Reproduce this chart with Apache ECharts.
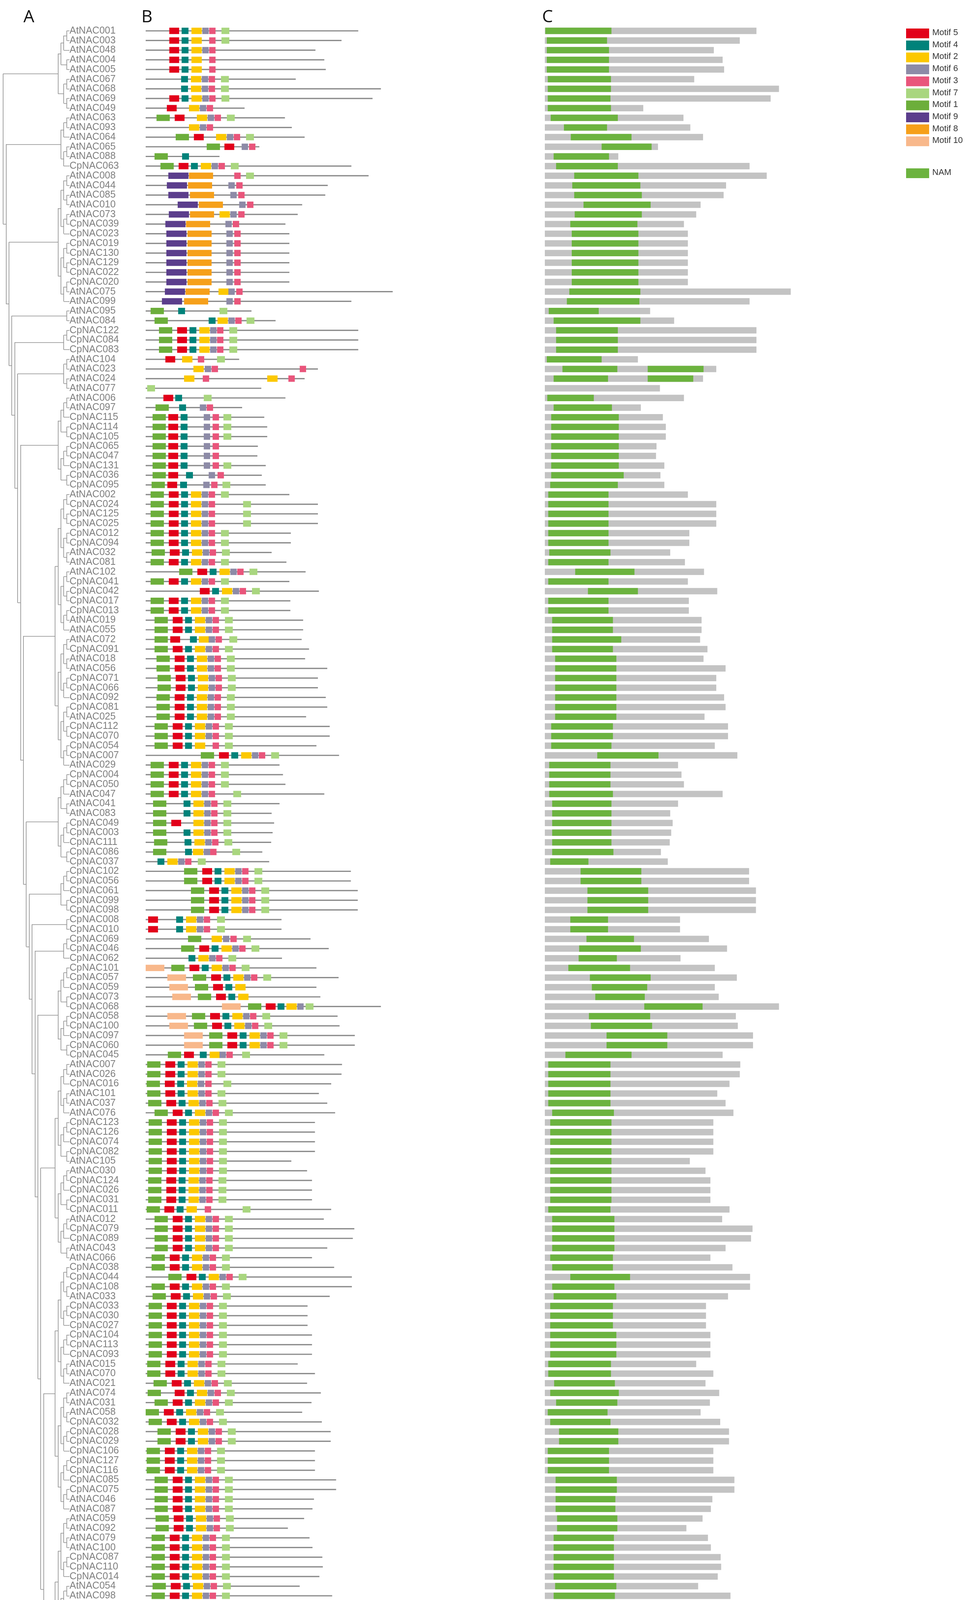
<!DOCTYPE html>
<html lang="en">
<head>
  <meta charset="UTF-8">
  <title>NAC motifs</title>
  <script src="https://cdn.jsdelivr.net/npm/echarts@6/dist/echarts.min.js"></script>
  <style>
    html, body { margin: 0; padding: 0; background: #fff; }
    #main { width: 2499px; height: 5883px; }
  </style>
</head>
<body>
<div id="main"></div>
<script>
  // gene order, top to bottom
  var names = [
    'AtNAC001','AtNAC003','AtNAC048','AtNAC004','AtNAC005','AtNAC067','AtNAC068','AtNAC069','AtNAC049','AtNAC063',
    'AtNAC093','AtNAC064','AtNAC065','AtNAC088','CpNAC063','AtNAC008','AtNAC044','AtNAC085','AtNAC010','AtNAC073',
    'CpNAC039','CpNAC023','CpNAC019','CpNAC130','CpNAC129','CpNAC022','CpNAC020','AtNAC075','AtNAC099','AtNAC095',
    'AtNAC084','CpNAC122','CpNAC084','CpNAC083','AtNAC104','AtNAC023','AtNAC024','AtNAC077','AtNAC006','AtNAC097',
    'CpNAC115','CpNAC114','CpNAC105','CpNAC065','CpNAC047','CpNAC131','CpNAC036','CpNAC095','AtNAC002','CpNAC024',
    'CpNAC125','CpNAC025','CpNAC012','CpNAC094','AtNAC032','AtNAC081','AtNAC102','CpNAC041','CpNAC042','CpNAC017',
    'CpNAC013','AtNAC019','AtNAC055','AtNAC072','CpNAC091','AtNAC018','AtNAC056','CpNAC071','CpNAC066','CpNAC092',
    'CpNAC081','AtNAC025','CpNAC112','CpNAC070','CpNAC054','CpNAC007','AtNAC029','CpNAC004','CpNAC050','AtNAC047',
    'AtNAC041','AtNAC083','CpNAC049','CpNAC003','CpNAC111','CpNAC086','CpNAC037','CpNAC102','CpNAC056','CpNAC061',
    'CpNAC099','CpNAC098','CpNAC008','CpNAC010','CpNAC069','CpNAC046','CpNAC062','CpNAC101','CpNAC057','CpNAC059',
    'CpNAC073','CpNAC068','CpNAC058','CpNAC100','CpNAC097','CpNAC060','CpNAC045','AtNAC007','AtNAC026','CpNAC016',
    'AtNAC101','AtNAC037','AtNAC076','CpNAC123','CpNAC126','CpNAC074','CpNAC082','AtNAC105','AtNAC030','CpNAC124',
    'CpNAC026','CpNAC031','CpNAC011','AtNAC012','CpNAC079','CpNAC089','AtNAC043','AtNAC066','CpNAC038','CpNAC044',
    'CpNAC108','AtNAC033','CpNAC033','CpNAC030','CpNAC027','CpNAC104','CpNAC113','CpNAC093','AtNAC015','AtNAC070',
    'AtNAC021','AtNAC074','AtNAC031','AtNAC058','CpNAC032','CpNAC028','CpNAC029','CpNAC106','CpNAC127','CpNAC116',
    'CpNAC085','CpNAC075','AtNAC046','AtNAC087','AtNAC059','AtNAC092','AtNAC079','AtNAC100','CpNAC087','CpNAC110',
    'CpNAC014','AtNAC054','AtNAC098','CpNAC090','CpNAC080','AtNAC038','CpNAC076','AtNAC011','AtNAC071','AtNAC096',
    'CpNAC088','CpNAC078','CpNAC118','AtNAC020','AtNAC057','CpNAC128','CpNAC107','AtNAC028','AtNAC045','AtNAC086',
    'AtNAC013','AtNAC016','AtNAC017','AtNAC050','AtNAC051','CpNAC096','AtNAC053','AtNAC078','CpNAC121','AtNAC082',
    'AtNAC103','CpNAC043','CpNAC018','CpNAC040','AtNAC040','AtNAC060','AtNAC089','CpNAC009','AtNAC014','AtNAC027',
    'AtNAC062','AtNAC091','CpNAC132','CpNAC053','CpNAC052','CpNAC119','CpNAC117','CpNAC077','CpNAC120','AtNAC009',
    'AtNAC094','CpNAC051','CpNAC006','CpNAC005','CpNAC015','AtNAC042','CpNAC034','CpNAC064','CpNAC035','CpNAC072',
    'CpNAC067','CpNAC109','CpNAC021','AtNAC034','CpNAC001','AtNAC036','CpNAC048','CpNAC002','AtNAC061','AtNAC090',
    'CpNAC055','CpNAC103'
  ];

  // protein length (aa)
  var protLen = [
    432,398,345,363,366,305,478,461,201,283,
    297,323,231,150,418,453,370,365,318,309,
    284,292,292,292,292,292,292,502,418,215,
    264,432,432,432,190,350,323,235,284,196,
    241,247,247,228,227,244,236,244,292,350,
    350,350,295,295,256,286,325,292,352,294,
    294,320,320,317,332,324,369,350,350,366,
    369,326,374,374,347,393,272,279,284,363,
    272,256,261,258,255,237,251,417,417,431,
    431,431,276,276,335,372,277,347,392,347,
    355,478,390,394,425,425,363,399,398,377,
    352,369,385,344,344,344,344,296,328,338,
    338,338,377,362,424,421,369,338,383,419,
    419,374,329,329,329,338,338,338,309,344,
    328,356,337,318,358,376,376,344,344,344,
    387,387,342,339,322,289,333,339,359,360,
    353,313,379,359,369,319,360,286,296,296,
    338,362,362,305,249,247,247,636,484,480,
    569,581,562,531,455,277,554,572,551,493,
    360,301,214,437,339,339,344,162,657,164,
    473,455,492,188,519,433,493,506,518,423,
    340,412,412,412,401,278,305,305,305,306,
    310,326,310,419,384,279,309,430,244,237,
    253,253
  ];

  // MEME motifs: "id@start" or "<motif set>+<shift>" on the common NAC layout
  var motifs = [
    '542637+11','54237+11','54263+11','5423+11','5423+11','42637+10','42637+10','542637+11','5263+6','152637+22',
    '263+6','152637+61','1@124 5@160 6@195 3@210','1@18 4@74','1542637+30','9@46 8@88 3@180 7@204','9@43 8@86 6@168 3@184','9@46 8@90 6@172 3@188','9@65 8@108 6@190 3@206','9@47 8@90 2@150 6@172 3@188',
    '9@40 8@82 6@162 3@177','9@42 8@85 6@164 3@180','9@42 8@85 6@164 3@180','9@42 8@85 6@164 3@180','9@42 8@85 6@164 3@180','9@42 8@85 6@164 3@180','9@42 8@85 6@164 3@180','9@39 8@81 2@148 6@168 3@184','9@33 8@78 6@164 3@180','1@10 4@66 7@150',
    '1@18 4@128 2@146 6@168 3@182 7@205','1542637+27','1542637+27','1542637+27','5@40 2@74 3@106 7@145','2@97 6@120 3@134 3@313','2@78 3@116 2@247 3@290','7@3','5@36 4@60 7@118','1@20 4@68 6@110 3@124',
    '1@14 5@46 4@71 6@118 3@136 7@158','1@14 5@46 4@71 6@118 3@136 7@158','1@14 5@46 4@71 6@118 3@136 7@158','1@14 5@46 4@71 6@118 3@136','1@14 5@46 4@71 6@118 3@136','1@14 5@46 4@71 6@118 3@136 7@158','1@14 5@46 4@82 6@128 3@146','1@12 5@44 4@70 6@117 3@133 7@156','1542637+10','1@10 5@47 4@72 2@92 6@114 3@128 7@198',
    '1@10 5@47 4@72 2@92 6@114 3@128 7@198','1@10 5@47 4@72 2@92 6@114 3@128 7@198','1542637+10','1542637+10','1542637+12','1542637+10','1542637+68','1542637+10','542637+73','1542637+10',
    '1542637+10','1542637+18','1542637+18','1@18 5@50 4@90 2@108 6@128 3@142 7@170','1542637+18','1542637+22','1542637+22','1542637+24','1542637+24','1542637+22',
    '1542637+22','1542637+22','1542637+18','1542637+18','154237+18','1542637+112','1542637+10','1542637+10','1542637+10','1@10 5@47 4@72 2@92 6@114 3@128 7@178',
    '142637+15','142637+15','152637+15','142637+15','142637+17','1@15 4@80 2@96 6@118 3@131 7@176','4@24 2@44 6@66 3@80 7@106','1542637+78','1542637+78','1542637+92',
    '1542637+92','1542637+92','5@5 4@62 2@82 6@104 3@118 7@145','5@5 4@62 2@82 6@104 3@118 7@145','1@86 2@134 6@157 3@172 7@198','1542637+72','42637+25','10@0 1542637+52','10@44 1542637+96','10@48 1542+100',
    '10@54 1542+106','10@155 1@208 5@244 4@268 2@286 6@308 7@325','10@44 1542637+94','10@48 1542637+98','10@78 1542637+129','10@78 1542637+129','1@45 5@78 4@110 2@130 6@150 3@164 7@196','1542637+3','1542637+3','1@2 5@39 4@64 2@84 6@106 3@121 7@158',
    '1542637+3','1542637+5','1542637+18','1542637+6','1542637+6','1542637+6','1542637+6','1542637+6','1542637+6','1542637+5',
    '1542637+5','1542637+5','1@2 5@38 4@63 2@83 3@120 7@197','1542637+18','1542637+18','1542637+18','1542637+18','1542637+12','1542637+12','1542637+46',
    '1542637+12','1542637+14','1542637+6','1542637+6','1542637+6','1542637+6','1542637+6','1542637+6','1542637+3','1542637+3',
    '1542637+16','1@4 542637+22','1542637+18','1542637+0','1542637+6','1542637+24','1542637+24','1542637+2','1542637+2','1542637+2',
    '1542637+18','1542637+18','1542637+18','1542637+18','1542637+20','1542637+20','1542637+12','1542637+12','1542637+12','1542637+12',
    '1542637+12','1542637+14','1542637+12','1542637+10','1542637+10','1542637+12','1542637+14','1542637+2','1542637+2','1542637+2',
    '1542637+2','1542637+2','1542637+2','1542637+2','1542637+2','1542637+2','1542637+2','1542637+2','1542637+2','1542637+2',
    '1542637+52','1@10 5@50 4@88 2@106 6@126 3@140 7@170','1542637+14','1@30 5@62 4@118 2@138 6@160 3@174 7@200','1542637+28','1542637+22','1542637+6','1542637+6','1542637+6','1542637+2',
    '1542637+2','1542637+2','1@5 5@40 4@64 2@86 7@107','1542637+2','1542637+12','1542637+12','1542637+18','154263+26','1542637+24','543+12',
    '1542637+14','1542637+14','1542637+4','1@2 5@44 4@90 2@110 6@132 3@146','1542637+24','154237+4','15237+2','154237+4','154237+4','1542637+16',
    '1@14 5@50 4@74 2@94 6@116 3@130 7@184','1542637+14','1542637+14','1542637+14','1542637+14','1542637+16','1542637+16','1542637+16','1542637+16','1542637+18',
    '1542637+18','1542637+18','1542637+24','1542637+58','1542637+22','1542637+2','1542637+12','1542637+158','1542637+2','1542637+2',
    '542637+6','542637+6'
  ];

  // NAM domain ranges (aa), space separated
  var namDomains = [
    '1-136','4-127','4-131','4-131','4-131','6-135','6-135','6-134','6-135','12-149',
    '39-127','53-177','116-218','18-131','23-149','60-191','56-195','60-198','79-216','61-198',
    '52-189','55-191','55-191','55-191','55-191','55-191','55-191','50-195','45-193','8-110',
    '18-195','23-149','23-149','23-149','4-116','36-148 210-324','18-129 210-303','','5-100','18-137',
    '13-151','13-151','13-151','13-151','13-151','13-151','13-161','11-149','7-130','7-130',
    '7-130','7-130','7-130','7-130','9-134','7-130','62-183','7-130','88-190','7-130',
    '7-130','15-139','15-139','15-156','15-139','21-146','21-146','21-146','21-146','21-146',
    '21-146','21-146','13-139','13-139','13-136','107-232','9-134','9-134','9-134','9-139',
    '15-136','15-136','15-136','15-136','15-136','15-140','11-89','73-197','73-197','87-211',
    '87-211','87-211','52-129','52-129','85-182','70-196','69-147','48-174','92-216','96-209',
    '103-204','203-322','90-215','94-219','126-250','126-250','42-177','7-134','7-134','7-134',
    '7-134','7-134','15-141','11-136','11-136','11-136','11-136','11-136','11-136','11-136',
    '11-136','11-136','7-134','15-142','15-142','15-142','15-142','11-139','15-139','52-174',
    '15-142','18-146','11-139','11-139','11-139','11-146','11-146','11-146','7-135','7-135',
    '19-143','11-151','23-148','6-128','11-134','29-150','29-150','6-131','6-131','6-131',
    '22-147','22-147','22-144','22-144','25-148','25-148','18-141','18-141','18-141','18-141',
    '18-141','21-146','18-143','15-141','15-141','18-142','19-143','7-140','7-134','7-134',
    '7-131','7-131','7-131','7-131','7-131','7-131','7-131','7-131','7-131','7-131',
    '47-170','16-153','16-141','28-187','28-154','20-146','9-135','9-135','9-135','6-133',
    '6-133','6-133','12-97','7-134','15-140','15-140','22-147','26-153','26-150','8-135',
    '13-141','13-141','','8-156','26-150','11-137','11-124','11-136','11-136','16-141',
    '20-146','16-142','16-142','16-142','16-142','19-142','19-149','19-149','19-149','19-149',
    '19-149','19-154','23-150','53-176','21-146','7-133','15-141','154-279','6-133','6-133',
    '5-137','5-137'
  ];

  // clade sizes of the tree, top to bottom
  var cladeSizes = [9, 6, 14, 2, 3, 4, 10, 29, 10, 5, 2, 3, 10, 21, 26, 25, 12, 14, 27];

  var motifOrder = ['5', '4', '2', '6', '3', '7', '1', '9', '8', '10'];
  var motifColor = {
    '5': '#e2001a', '4': '#00827a', '2': '#fcc800', '6': '#8d8ba7', '3': '#e9557b',
    '7': '#a9d67f', '1': '#6cae3b', '9': '#5b3e8c', '8': '#f6a01a', '10': '#f8b88b'
  };
  var motifWidth = { '1': 27, '5': 20, '4': 14, '2': 21, '6': 13, '3': 13, '7': 16, '9': 41, '8': 49, '10': 38 };
  var layout = { '1': 0, '5': 37, '4': 62, '2': 82, '6': 104, '3': 118, '7': 143 };

  var N = names.length;
  var rowH = 24.73;
  var gridTop = 79 - rowH / 2;
  var gridH = rowH * N;
  var axisY = 5827;

  // build marks
  var lineData = [], motifData = [], bgData = [], namData = [];
  for (var i = 0; i < N; i++) {
    lineData.push([i, 0, protLen[i]]);
    bgData.push([i, 0, protLen[i]]);
    motifs[i].split(' ').forEach(function (tok) {
      if (tok.indexOf('@') >= 0) {
        var p = tok.split('@');
        motifData.push([i, +p[1], +p[1] + motifWidth[p[0]], p[0]]);
      } else {
        var q = tok.split('+');
        q[0].split('').forEach(function (c) {
          var s = layout[c] + (+q[1]);
          motifData.push([i, s, s + motifWidth[c], c]);
        });
      }
    });
    if (namDomains[i]) {
      namDomains[i].split(' ').forEach(function (r) {
        var a = r.split('-');
        namData.push([i, +a[0], +a[1]]);
      });
    }
  }

  // tree
  var treeLines = [];
  function build(lo, hi) {
    if (lo === hi) return { y: lo, h: 0 };
    var mid = lo + Math.ceil((hi - lo + 1) / 2) - 1;
    return join(build(lo, mid), build(mid + 1, hi));
  }
  var nodes = [];
  function join(a, b) {
    var n = { y: (a.y + b.y) / 2, h: Math.max(a.h, b.h) + 1, kids: [a, b] };
    nodes.push(n);
    return n;
  }
  var clades = [], start = 0;
  cladeSizes.forEach(function (s) { clades.push(build(start, start + s - 1)); start += s; });
  var root = clades[clades.length - 1];
  for (var c = clades.length - 2; c >= 0; c--) root = join(clades[c], root);
  var H = root.h;
  function nx(n) { return 1 - n.h / H; }
  nodes.forEach(function (n) {
    var x = nx(n);
    treeLines.push({ coords: [[x, n.kids[0].y], [x, n.kids[1].y]] });
    n.kids.forEach(function (k) { treeLines.push({ coords: [[x, k.y], [nx(k), k.y]] }); });
  });

  function rectItem(hFrac, fillFn) {
    return function (params, api) {
      var p1 = api.coord([api.value(1), api.value(0)]);
      var p2 = api.coord([api.value(2), api.value(0)]);
      var h = api.size([0, 1])[1] * hFrac;
      return {
        type: 'rect',
        shape: { x: p1[0], y: p1[1] - h / 2, width: p2[0] - p1[0], height: h },
        style: { fill: fillFn(api) }
      };
    };
  }

  function xAxisFor(idx) {
    return {
      gridIndex: idx, type: 'value', min: 0, max: 700, interval: 100,
      position: 'bottom', offset: axisY - (gridTop + gridH),
      axisLine: { lineStyle: { color: '#a8a8a8', width: 4 } },
      axisTick: { length: 10, lineStyle: { color: '#777', width: 2 } },
      axisLabel: { fontSize: 26, color: '#333', fontFamily: 'Liberation Sans Narrow, Liberation Sans', margin: 14 },
      splitLine: { show: false }
    };
  }

  var graphics = [];
  [['A', 60], ['B', 362], ['C', 1388]].forEach(function (l) {
    graphics.push({ type: 'text', left: l[1], top: 22, style: { text: l[0], fontSize: 44, fill: '#111', fontFamily: 'Open Sans' } });
  });
  [[373, 1255], [1395, 2273]].forEach(function (a) {
    graphics.push({ type: 'text', left: a[0] - 24, top: axisY - 20, style: { text: "5'", fontSize: 26, fill: '#333', fontFamily: 'Liberation Sans Narrow, Liberation Sans' } });
    graphics.push({ type: 'text', left: a[1] + 6, top: axisY - 20, style: { text: "3'", fontSize: 26, fill: '#333', fontFamily: 'Liberation Sans Narrow, Liberation Sans' } });
  });
  motifOrder.forEach(function (m, k) {
    var y = 73 + k * 30.7;
    graphics.push({ type: 'rect', shape: { x: 2320, y: y, width: 59, height: 25 }, style: { fill: motifColor[m] } });
    graphics.push({ type: 'text', left: 2387, top: y, style: { text: 'Motif ' + m, fontSize: 22, fill: '#333', fontFamily: 'Liberation Sans' } });
  });
  graphics.push({ type: 'rect', shape: { x: 2320, y: 431, width: 59, height: 25 }, style: { fill: '#6cb33f' } });
  graphics.push({ type: 'text', left: 2387, top: 431, style: { text: 'NAM', fontSize: 22, fill: '#333', fontFamily: 'Liberation Sans' } });

  var chart = echarts.init(document.getElementById('main'));
  chart.setOption({
    backgroundColor: '#fff',
    animation: false,
    graphic: graphics,
    grid: [
      { left: 8, width: 170, top: gridTop, height: gridH },
      { left: 373, width: 882, top: gridTop, height: gridH },
      { left: 1395, width: 878, top: gridTop, height: gridH }
    ],
    xAxis: [
      { gridIndex: 0, type: 'value', min: 0, max: 1, show: false },
      xAxisFor(1),
      xAxisFor(2)
    ],
    yAxis: [
      { gridIndex: 0, type: 'value', min: -0.5, max: N - 0.5, inverse: true, show: false },
      {
        gridIndex: 1, type: 'category', data: names, inverse: true,
        axisLine: { show: false }, axisTick: { show: false },
        axisLabel: { interval: 0, align: 'left', margin: 195, fontSize: 25, color: '#7f7f7f', fontFamily: 'Liberation Sans' }
      },
      { gridIndex: 2, type: 'category', data: names, inverse: true, show: false }
    ],
    series: [
      {
        type: 'lines', coordinateSystem: 'cartesian2d', xAxisIndex: 0, yAxisIndex: 0,
        polyline: false, silent: true, data: treeLines,
        lineStyle: { color: '#8c8c8c', width: 1.6, opacity: 1 }
      },
      {
        type: 'custom', xAxisIndex: 1, yAxisIndex: 1, data: lineData,
        renderItem: rectItem(0.13, function () { return '#8a8a8a'; })
      },
      {
        type: 'custom', xAxisIndex: 1, yAxisIndex: 1, data: motifData,
        renderItem: rectItem(0.66, function (api) { return motifColor[api.value(3)]; })
      },
      {
        type: 'custom', xAxisIndex: 2, yAxisIndex: 2, data: bgData,
        renderItem: rectItem(0.66, function () { return '#c3c3c3'; })
      },
      {
        type: 'custom', xAxisIndex: 2, yAxisIndex: 2, data: namData,
        renderItem: rectItem(0.66, function () { return '#6cb33f'; })
      }
    ]
  });
</script>
</body>
</html>
